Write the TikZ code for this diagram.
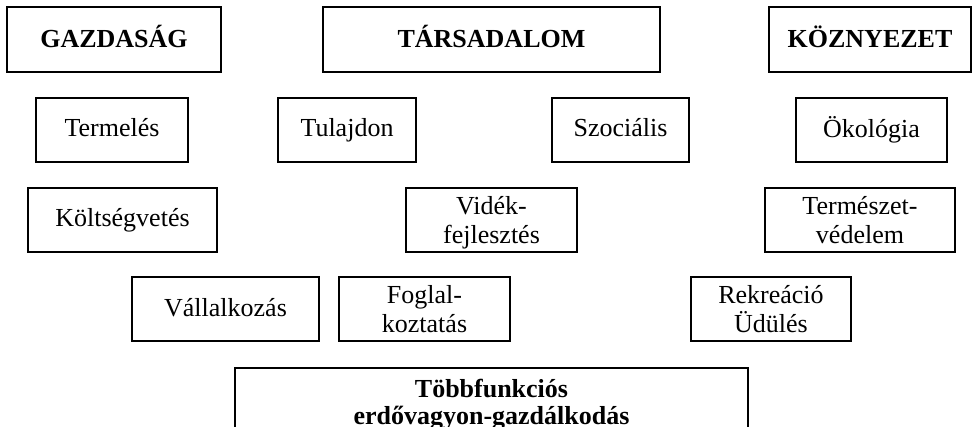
\documentclass[tikz,border=0pt]{standalone}
\usepackage{fontspec}
\setmainfont{Liberation Serif}
\newcommand{\onestrut}{\rule[-6pt]{0pt}{26pt}}
\newcommand{\topstrut}{\rule{0pt}{24pt}}
\newcommand{\botstrut}{\rule[-6pt]{0pt}{6pt}}
\begin{document}
\begin{tikzpicture}[x=1pt,y=-1pt,
  box/.style={draw=black, line width=1.6pt, inner sep=0pt, align=center,
    font=\fontsize{26}{29}\selectfont, anchor=center},
  head/.style={box, font=\fontsize{26}{29}\selectfont\bfseries, minimum height=65pt},
  item/.style={box, minimum height=64pt}]
\useasboundingbox (0,0) rectangle (973,427);
% headings
\node[head, minimum width=214pt] (gaz) at (114,39.5) {\onestrut GAZDASÁG};
\node[head, minimum width=337pt] (tar) at (491.5,39.5) {\onestrut TÁRSADALOM};
\node[head, minimum width=202pt] (koz) at (870,39.5) {\onestrut KÖZNYEZET};
% row 2
\node[item, minimum width=152pt] (term) at (112,130) {\onestrut Termelés};
\node[item, minimum width=138pt] (tul) at (347,130) {\onestrut Tulajdon};
\node[item, minimum width=137pt] (szoc) at (620.5,130) {\onestrut Szociális};
\node[item, minimum width=151pt] (oko) at (871.5,130) {\onestrut Ökológia};
% row 3
\node[item, minimum width=189pt] (kolt) at (122.5,220) {\onestrut Költségvetés};
\node[item, minimum width=171pt] (vid) at (491.5,220) {\topstrut Vidék-\\fejlesztés\botstrut};
\node[item, minimum width=190pt] (tvd) at (860,220) {\topstrut Természet-\\védelem\botstrut};
% row 4
\node[item, minimum width=187pt] (vall) at (225.5,309) {\onestrut Vállalkozás};
\node[item, minimum width=171pt] (fog) at (424.5,309) {\topstrut Foglal-\\koztatás\botstrut};
\node[item, minimum width=160pt] (rek) at (771,309) {\topstrut Rekreáció\\Üdülés\botstrut};
% bottom
\node[box, font=\fontsize{26}{27}\selectfont\bfseries, minimum width=513pt,
  inner ysep=11pt, anchor=north] (tobb) at (491.5,367)
  {Többfunkciós\\erdővagyon-gazdálkodás};
\end{tikzpicture}
\end{document}
